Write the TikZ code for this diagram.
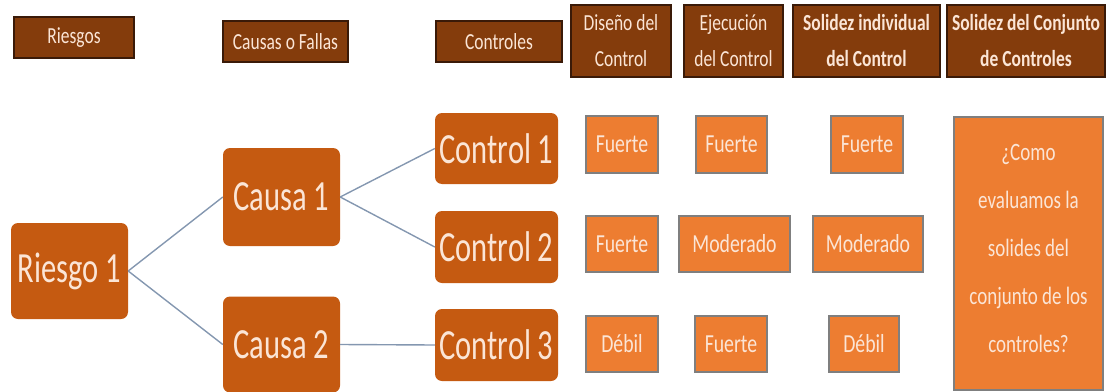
\documentclass[tikz,border=0pt]{standalone}
\usepackage{fontspec}
\setmainfont{Carlito}[FakeStretch=0.76]
\newfontfamily\narrowfont{Carlito}[FakeStretch=0.71]
\usetikzlibrary{positioning}

\definecolor{hdrfill}{HTML}{843C0C}
\definecolor{hdrline}{HTML}{3A1A08}
\definecolor{rfill}{HTML}{C55A11}
\definecolor{sfill}{HTML}{ED7D31}
\definecolor{sline}{HTML}{7F7F7F}
\definecolor{txt}{HTML}{FBE5D6}
\definecolor{link}{HTML}{8497B0}

\begin{document}
\begin{tikzpicture}[x=1pt, y=-1pt,
	hdr/.style={draw=hdrline, line width=1.2pt, fill=hdrfill, text=txt, inner sep=0pt,
		align=center, font=\fontsize{23}{36}\selectfont},
	rbox/.style={fill=rfill, rounded corners=7pt, text=txt, inner sep=0pt,
		font=\narrowfont\fontsize{43}{50}\selectfont},
	sbox/.style={draw=sline, line width=1.3pt, fill=sfill, text=txt, inner sep=0pt,
		minimum height=56pt, font=\fontsize{26}{30}\selectfont},
	link/.style={draw=link, line width=1.4pt}]
	
	\useasboundingbox (0,0) rectangle (1106,391);
	
	% Column headers
	\node[hdr, minimum width=120pt, minimum height=41pt] (hriesgos) at (74,37.5) {Riesgos};
	\node[hdr, minimum width=125pt, minimum height=41pt] (hcausas) at (285.5,41.5) {Causas o Fallas};
	\node[hdr, minimum width=126pt, minimum height=41pt] (hcontroles) at (499,41.5) {Controles};
	\node[hdr, minimum width=100pt, minimum height=72pt] (hdiseno) at (621,41) {Diseño del\\Control};
	\node[hdr, minimum width=99pt, minimum height=72pt] (hejec) at (733.5,41) {Ejecución\\del Control};
	\node[hdr, minimum width=147pt, minimum height=72pt, font=\fontsize{23}{36}\selectfont\bfseries] (hsolidez) at (866.5,41) {Solidez individual\\del Control};
	\node[hdr, minimum width=158pt, minimum height=72pt, font=\fontsize{23}{36}\selectfont\bfseries] (hconjunto) at (1026,41) {Solidez del Conjunto\\de Controles};
	
	% Riesgo, causas y controles
	\node[rbox, minimum width=117pt, minimum height=96pt] (riesgo) at (69.5,271) {Riesgo 1};
	\node[rbox, minimum width=117pt, minimum height=98pt] (causa1) at (281.5,197) {Causa 1};
	\node[rbox, minimum width=117pt, minimum height=96pt] (causa2) at (281.5,344.5) {Causa 2};
	\node[rbox, minimum width=123pt, minimum height=71pt] (control1) at (496.5,148.5) {Control 1};
	\node[rbox, minimum width=123pt, minimum height=72pt] (control2) at (496.5,247) {Control 2};
	\node[rbox, minimum width=123pt, minimum height=72pt] (control3) at (496.5,345) {Control 3};
	
	% Ramas
	\draw[link] (riesgo.east) -- (causa1.west);
	\draw[link] (riesgo.east) -- (causa2.west);
	\draw[link] (causa1.east) -- (control1.west);
	\draw[link] (causa1.east) -- (control2.west);
	\draw[link] (causa2.east) -- (control3.west);
	
	% Evaluaciones
	\node[sbox, minimum width=72pt, minimum height=57pt] (dis1) at (622,144.5) {Fuerte};
	\node[sbox, minimum width=72pt] (dis2) at (622,244) {Fuerte};
	\node[sbox, minimum width=72pt] (dis3) at (622,344) {Débil};
	\node[sbox, minimum width=71pt, minimum height=57pt] (eje1) at (731.5,144.5) {Fuerte};
	\node[sbox, minimum width=111pt] (eje2) at (734.5,244) {Moderado};
	\node[sbox, minimum width=72pt] (eje3) at (731,344) {Fuerte};
	\node[sbox, minimum width=72pt, minimum height=57pt] (sol1) at (867,144.5) {Fuerte};
	\node[sbox, minimum width=110pt] (sol2) at (868,244) {Moderado};
	\node[sbox, minimum width=70pt] (sol3) at (864,344) {Débil};
	
	% Pregunta final
	\node[sbox, minimum width=149pt, minimum height=273pt, align=center,
		font=\fontsize{25}{48}\selectfont] (pregunta) at (1028.5,253.5)
		{¿Como\\evaluamos la\\solides del\\conjunto de los\\controles?\\[-38pt]};
	
\end{tikzpicture}
\end{document}
